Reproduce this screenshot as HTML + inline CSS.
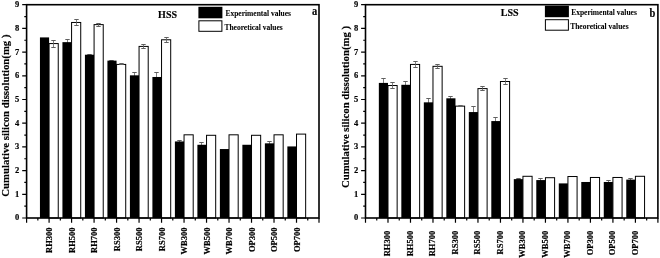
<!DOCTYPE html>
<html><head><meta charset="utf-8"><style>
html,body{margin:0;padding:0;background:#fff;width:660px;height:258px;overflow:hidden}
svg{display:block;will-change:transform}
text{font-family:"Liberation Serif",serif;font-weight:bold;fill:#000;stroke:#000;stroke-width:0.18px}
.tl{font-size:8.5px}
.yt{font-size:11.2px}
.tt{font-size:10.6px}
.lg{font-size:7.5px;stroke-width:0.06px}
.lt{font-size:11px}
</style></head><body>
<svg width="660" height="258" viewBox="0 0 660 258">
<rect x="39.94" y="37.41" width="9.15" height="180.59" fill="#000"/>
<rect x="49.09" y="43.57" width="9.15" height="174.43" fill="#fff" stroke="#000" stroke-width="1.0"/>
<path d="M53.50 40.50V47.50" stroke="#606060" stroke-width="0.8" fill="none"/>
<path d="M51.30 40.50H55.70M51.30 47.50H55.70" stroke="#606060" stroke-width="1.0" fill="none"/>
<path d="M67.50 39.50V45.50" stroke="#606060" stroke-width="0.8" fill="none"/>
<path d="M65.30 39.50H69.70M65.30 45.50H69.70" stroke="#606060" stroke-width="1.0" fill="none"/>
<rect x="62.43" y="42.15" width="9.15" height="175.85" fill="#000"/>
<rect x="71.58" y="22.47" width="9.15" height="195.53" fill="#fff" stroke="#000" stroke-width="1.0"/>
<path d="M76.50 19.50V25.50" stroke="#606060" stroke-width="0.8" fill="none"/>
<path d="M74.30 19.50H78.70M74.30 25.50H78.70" stroke="#606060" stroke-width="1.0" fill="none"/>
<path d="M89.50 54.50V55.50" stroke="#606060" stroke-width="0.8" fill="none"/>
<path d="M87.30 54.50H91.70M87.30 55.50H91.70" stroke="#606060" stroke-width="1.0" fill="none"/>
<rect x="84.93" y="54.71" width="9.15" height="163.29" fill="#000"/>
<rect x="94.08" y="24.61" width="9.15" height="193.39" fill="#fff" stroke="#000" stroke-width="1.0"/>
<path d="M98.50 23.50V26.50" stroke="#606060" stroke-width="0.8" fill="none"/>
<path d="M96.30 23.50H100.70M96.30 26.50H100.70" stroke="#606060" stroke-width="1.0" fill="none"/>
<path d="M111.50 60.50V61.50" stroke="#606060" stroke-width="0.8" fill="none"/>
<path d="M109.30 60.50H113.70M109.30 61.50H113.70" stroke="#606060" stroke-width="1.0" fill="none"/>
<rect x="107.42" y="60.63" width="9.15" height="157.37" fill="#000"/>
<rect x="116.57" y="64.42" width="9.15" height="153.58" fill="#fff" stroke="#000" stroke-width="1.0"/>
<path d="M121.50 63.50V64.50" stroke="#606060" stroke-width="0.8" fill="none"/>
<path d="M119.30 63.50H123.70M119.30 64.50H123.70" stroke="#606060" stroke-width="1.0" fill="none"/>
<path d="M134.50 72.50V78.50" stroke="#606060" stroke-width="0.8" fill="none"/>
<path d="M132.30 72.50H136.70M132.30 78.50H136.70" stroke="#606060" stroke-width="1.0" fill="none"/>
<rect x="129.91" y="75.33" width="9.15" height="142.67" fill="#000"/>
<rect x="139.06" y="46.41" width="9.15" height="171.59" fill="#fff" stroke="#000" stroke-width="1.0"/>
<path d="M143.50 44.50V48.50" stroke="#606060" stroke-width="0.8" fill="none"/>
<path d="M141.30 44.50H145.70M141.30 48.50H145.70" stroke="#606060" stroke-width="1.0" fill="none"/>
<path d="M156.50 72.50V81.50" stroke="#606060" stroke-width="0.8" fill="none"/>
<path d="M154.30 72.50H158.70M154.30 81.50H158.70" stroke="#606060" stroke-width="1.0" fill="none"/>
<rect x="152.40" y="76.98" width="9.15" height="141.02" fill="#000"/>
<rect x="161.55" y="39.78" width="9.15" height="178.22" fill="#fff" stroke="#000" stroke-width="1.0"/>
<path d="M166.50 37.50V42.50" stroke="#606060" stroke-width="0.8" fill="none"/>
<path d="M164.30 37.50H168.70M164.30 42.50H168.70" stroke="#606060" stroke-width="1.0" fill="none"/>
<path d="M179.50 140.50V142.50" stroke="#606060" stroke-width="0.8" fill="none"/>
<path d="M177.30 140.50H181.70M177.30 142.50H181.70" stroke="#606060" stroke-width="1.0" fill="none"/>
<rect x="174.90" y="141.45" width="9.15" height="76.55" fill="#000"/>
<rect x="184.05" y="134.81" width="9.15" height="83.19" fill="#fff" stroke="#000" stroke-width="1.0"/>
<path d="M201.50 142.50V147.50" stroke="#606060" stroke-width="0.8" fill="none"/>
<path d="M199.30 142.50H203.70M199.30 147.50H203.70" stroke="#606060" stroke-width="1.0" fill="none"/>
<rect x="197.39" y="144.77" width="9.15" height="73.23" fill="#000"/>
<rect x="206.54" y="135.29" width="9.15" height="82.71" fill="#fff" stroke="#000" stroke-width="1.0"/>
<rect x="219.88" y="149.03" width="9.15" height="68.97" fill="#000"/>
<rect x="229.03" y="134.81" width="9.15" height="83.19" fill="#fff" stroke="#000" stroke-width="1.0"/>
<rect x="242.37" y="144.77" width="9.15" height="73.23" fill="#000"/>
<rect x="251.52" y="135.29" width="9.15" height="82.71" fill="#fff" stroke="#000" stroke-width="1.0"/>
<path d="M269.50 141.50V145.50" stroke="#606060" stroke-width="0.8" fill="none"/>
<path d="M267.30 141.50H271.70M267.30 145.50H271.70" stroke="#606060" stroke-width="1.0" fill="none"/>
<rect x="264.87" y="143.34" width="9.15" height="74.66" fill="#000"/>
<rect x="274.02" y="134.81" width="9.15" height="83.19" fill="#fff" stroke="#000" stroke-width="1.0"/>
<rect x="287.36" y="146.43" width="9.15" height="71.57" fill="#000"/>
<rect x="296.51" y="134.10" width="9.15" height="83.90" fill="#fff" stroke="#000" stroke-width="1.0"/>
<rect x="26.60" y="4.70" width="292.40" height="213.30" fill="none" stroke="#000" stroke-width="1.6"/>
<path d="M26.60 218.00H22.20M26.60 206.15H24.30M26.60 194.30H22.20M26.60 182.45H24.30M26.60 170.60H22.20M26.60 158.75H24.30M26.60 146.90H22.20M26.60 135.05H24.30M26.60 123.20H22.20M26.60 111.35H24.30M26.60 99.50H22.20M26.60 87.65H24.30M26.60 75.80H22.20M26.60 63.95H24.30M26.60 52.10H22.20M26.60 40.25H24.30M26.60 28.40H22.20M26.60 16.55H24.30M26.60 4.70H22.20M26.60 218.00V222.70M37.85 218.00V220.50M49.09 218.00V222.70M60.34 218.00V220.50M71.58 218.00V222.70M82.83 218.00V220.50M94.08 218.00V222.70M105.32 218.00V220.50M116.57 218.00V222.70M127.82 218.00V220.50M139.06 218.00V222.70M150.31 218.00V220.50M161.55 218.00V222.70M172.80 218.00V220.50M184.05 218.00V222.70M195.29 218.00V220.50M206.54 218.00V222.70M217.78 218.00V220.50M229.03 218.00V222.70M240.28 218.00V220.50M251.52 218.00V222.70M262.77 218.00V220.50M274.02 218.00V222.70M285.26 218.00V220.50M296.51 218.00V222.70M307.75 218.00V220.50M319.00 218.00V222.70" stroke="#000" stroke-width="1.2" fill="none"/>
<text x="19.30" y="220.40" text-anchor="end" class="tl">0</text>
<text x="19.30" y="196.70" text-anchor="end" class="tl">1</text>
<text x="19.30" y="173.00" text-anchor="end" class="tl">2</text>
<text x="19.30" y="149.30" text-anchor="end" class="tl">3</text>
<text x="19.30" y="125.60" text-anchor="end" class="tl">4</text>
<text x="19.30" y="101.90" text-anchor="end" class="tl">5</text>
<text x="19.30" y="78.20" text-anchor="end" class="tl">6</text>
<text x="19.30" y="54.50" text-anchor="end" class="tl">7</text>
<text x="19.30" y="30.80" text-anchor="end" class="tl">8</text>
<text x="19.30" y="7.10" text-anchor="end" class="tl">9</text>
<text transform="translate(52.19,227.50) rotate(-90)" text-anchor="end" class="tl">RH300</text>
<text transform="translate(74.68,227.50) rotate(-90)" text-anchor="end" class="tl">RH500</text>
<text transform="translate(97.18,227.50) rotate(-90)" text-anchor="end" class="tl">RH700</text>
<text transform="translate(119.67,227.50) rotate(-90)" text-anchor="end" class="tl">RS300</text>
<text transform="translate(142.16,227.50) rotate(-90)" text-anchor="end" class="tl">RS500</text>
<text transform="translate(164.65,227.50) rotate(-90)" text-anchor="end" class="tl">RS700</text>
<text transform="translate(187.15,227.50) rotate(-90)" text-anchor="end" class="tl">WB300</text>
<text transform="translate(209.64,227.50) rotate(-90)" text-anchor="end" class="tl">WB500</text>
<text transform="translate(232.13,227.50) rotate(-90)" text-anchor="end" class="tl">WB700</text>
<text transform="translate(254.62,227.50) rotate(-90)" text-anchor="end" class="tl">OP300</text>
<text transform="translate(277.12,227.50) rotate(-90)" text-anchor="end" class="tl">OP500</text>
<text transform="translate(299.61,227.50) rotate(-90)" text-anchor="end" class="tl">OP700</text>
<text transform="translate(9.20,115.60) rotate(-90) scale(0.962,1)" text-anchor="middle" class="yt">Cumulative silicon dissolution(mg )</text>
<text transform="translate(158.10,17.60) scale(0.95,1)" class="tt">HSS</text>
<rect x="198.40" y="6.80" width="24" height="11.5" fill="#000"/>
<rect x="198.90" y="20.80" width="23" height="10.5" fill="#fff" stroke="#000" stroke-width="1"/>
<text x="225.40" y="16.00" class="lg">Experimental values</text>
<text x="224.40" y="29.70" class="lg">Theoretical values</text>
<text transform="translate(312.00,14.70) scale(0.86,1)" style="font-size:12.2px">a</text>
<path d="M383.50 78.50V87.50" stroke="#606060" stroke-width="0.8" fill="none"/>
<path d="M381.30 78.50H385.70M381.30 87.50H385.70" stroke="#606060" stroke-width="1.0" fill="none"/>
<rect x="378.84" y="82.91" width="9.15" height="135.09" fill="#000"/>
<rect x="387.99" y="85.52" width="9.15" height="132.48" fill="#fff" stroke="#000" stroke-width="1.0"/>
<path d="M392.50 82.50V88.50" stroke="#606060" stroke-width="0.8" fill="none"/>
<path d="M390.30 82.50H394.70M390.30 88.50H394.70" stroke="#606060" stroke-width="1.0" fill="none"/>
<path d="M405.50 81.50V88.50" stroke="#606060" stroke-width="0.8" fill="none"/>
<path d="M403.30 81.50H407.70M403.30 88.50H407.70" stroke="#606060" stroke-width="1.0" fill="none"/>
<rect x="401.33" y="84.81" width="9.15" height="133.19" fill="#000"/>
<rect x="410.48" y="64.42" width="9.15" height="153.58" fill="#fff" stroke="#000" stroke-width="1.0"/>
<path d="M415.50 61.50V67.50" stroke="#606060" stroke-width="0.8" fill="none"/>
<path d="M413.30 61.50H417.70M413.30 67.50H417.70" stroke="#606060" stroke-width="1.0" fill="none"/>
<path d="M428.50 98.50V105.50" stroke="#606060" stroke-width="0.8" fill="none"/>
<path d="M426.30 98.50H430.70M426.30 105.50H430.70" stroke="#606060" stroke-width="1.0" fill="none"/>
<rect x="423.83" y="102.34" width="9.15" height="115.66" fill="#000"/>
<rect x="432.98" y="66.32" width="9.15" height="151.68" fill="#fff" stroke="#000" stroke-width="1.0"/>
<path d="M437.50 64.50V68.50" stroke="#606060" stroke-width="0.8" fill="none"/>
<path d="M435.30 64.50H439.70M435.30 68.50H439.70" stroke="#606060" stroke-width="1.0" fill="none"/>
<path d="M450.50 96.50V100.50" stroke="#606060" stroke-width="0.8" fill="none"/>
<path d="M448.30 96.50H452.70M448.30 100.50H452.70" stroke="#606060" stroke-width="1.0" fill="none"/>
<rect x="446.32" y="98.31" width="9.15" height="119.69" fill="#000"/>
<rect x="455.47" y="106.14" width="9.15" height="111.86" fill="#fff" stroke="#000" stroke-width="1.0"/>
<path d="M460.50 105.50V106.50" stroke="#606060" stroke-width="0.8" fill="none"/>
<path d="M458.30 105.50H462.70M458.30 106.50H462.70" stroke="#606060" stroke-width="1.0" fill="none"/>
<path d="M473.50 106.50V117.50" stroke="#606060" stroke-width="0.8" fill="none"/>
<path d="M471.30 106.50H475.70M471.30 117.50H475.70" stroke="#606060" stroke-width="1.0" fill="none"/>
<rect x="468.81" y="112.06" width="9.15" height="105.94" fill="#000"/>
<rect x="477.96" y="88.60" width="9.15" height="129.40" fill="#fff" stroke="#000" stroke-width="1.0"/>
<path d="M482.50 86.50V90.50" stroke="#606060" stroke-width="0.8" fill="none"/>
<path d="M480.30 86.50H484.70M480.30 90.50H484.70" stroke="#606060" stroke-width="1.0" fill="none"/>
<path d="M495.50 117.50V124.50" stroke="#606060" stroke-width="0.8" fill="none"/>
<path d="M493.30 117.50H497.70M493.30 124.50H497.70" stroke="#606060" stroke-width="1.0" fill="none"/>
<rect x="491.30" y="121.07" width="9.15" height="96.93" fill="#000"/>
<rect x="500.45" y="81.49" width="9.15" height="136.51" fill="#fff" stroke="#000" stroke-width="1.0"/>
<path d="M505.50 78.50V84.50" stroke="#606060" stroke-width="0.8" fill="none"/>
<path d="M503.30 78.50H507.70M503.30 84.50H507.70" stroke="#606060" stroke-width="1.0" fill="none"/>
<path d="M518.50 178.50V179.50" stroke="#606060" stroke-width="0.8" fill="none"/>
<path d="M516.30 178.50H520.70M516.30 179.50H520.70" stroke="#606060" stroke-width="1.0" fill="none"/>
<rect x="513.80" y="179.13" width="9.15" height="38.87" fill="#000"/>
<rect x="522.95" y="176.29" width="9.15" height="41.71" fill="#fff" stroke="#000" stroke-width="1.0"/>
<path d="M540.50 178.50V181.50" stroke="#606060" stroke-width="0.8" fill="none"/>
<path d="M538.30 178.50H542.70M538.30 181.50H542.70" stroke="#606060" stroke-width="1.0" fill="none"/>
<rect x="536.29" y="180.08" width="9.15" height="37.92" fill="#000"/>
<rect x="545.44" y="177.71" width="9.15" height="40.29" fill="#fff" stroke="#000" stroke-width="1.0"/>
<rect x="558.78" y="183.40" width="9.15" height="34.60" fill="#000"/>
<rect x="567.93" y="176.52" width="9.15" height="41.48" fill="#fff" stroke="#000" stroke-width="1.0"/>
<rect x="581.27" y="181.98" width="9.15" height="36.02" fill="#000"/>
<rect x="590.42" y="177.47" width="9.15" height="40.53" fill="#fff" stroke="#000" stroke-width="1.0"/>
<path d="M608.50 180.50V183.50" stroke="#606060" stroke-width="0.8" fill="none"/>
<path d="M606.30 180.50H610.70M606.30 183.50H610.70" stroke="#606060" stroke-width="1.0" fill="none"/>
<rect x="603.77" y="181.98" width="9.15" height="36.02" fill="#000"/>
<rect x="612.92" y="177.47" width="9.15" height="40.53" fill="#fff" stroke="#000" stroke-width="1.0"/>
<path d="M630.50 178.50V180.50" stroke="#606060" stroke-width="0.8" fill="none"/>
<path d="M628.30 178.50H632.70M628.30 180.50H632.70" stroke="#606060" stroke-width="1.0" fill="none"/>
<rect x="626.26" y="179.61" width="9.15" height="38.39" fill="#000"/>
<rect x="635.41" y="176.29" width="9.15" height="41.71" fill="#fff" stroke="#000" stroke-width="1.0"/>
<rect x="365.50" y="4.70" width="292.40" height="213.30" fill="none" stroke="#000" stroke-width="1.6"/>
<path d="M365.50 218.00H361.10M365.50 206.15H363.20M365.50 194.30H361.10M365.50 182.45H363.20M365.50 170.60H361.10M365.50 158.75H363.20M365.50 146.90H361.10M365.50 135.05H363.20M365.50 123.20H361.10M365.50 111.35H363.20M365.50 99.50H361.10M365.50 87.65H363.20M365.50 75.80H361.10M365.50 63.95H363.20M365.50 52.10H361.10M365.50 40.25H363.20M365.50 28.40H361.10M365.50 16.55H363.20M365.50 4.70H361.10M365.50 218.00V222.70M376.75 218.00V220.50M387.99 218.00V222.70M399.24 218.00V220.50M410.48 218.00V222.70M421.73 218.00V220.50M432.98 218.00V222.70M444.22 218.00V220.50M455.47 218.00V222.70M466.72 218.00V220.50M477.96 218.00V222.70M489.21 218.00V220.50M500.45 218.00V222.70M511.70 218.00V220.50M522.95 218.00V222.70M534.19 218.00V220.50M545.44 218.00V222.70M556.68 218.00V220.50M567.93 218.00V222.70M579.18 218.00V220.50M590.42 218.00V222.70M601.67 218.00V220.50M612.92 218.00V222.70M624.16 218.00V220.50M635.41 218.00V222.70M646.65 218.00V220.50M657.90 218.00V222.70" stroke="#000" stroke-width="1.2" fill="none"/>
<text x="358.20" y="220.40" text-anchor="end" class="tl">0</text>
<text x="358.20" y="196.70" text-anchor="end" class="tl">1</text>
<text x="358.20" y="173.00" text-anchor="end" class="tl">2</text>
<text x="358.20" y="149.30" text-anchor="end" class="tl">3</text>
<text x="358.20" y="125.60" text-anchor="end" class="tl">4</text>
<text x="358.20" y="101.90" text-anchor="end" class="tl">5</text>
<text x="358.20" y="78.20" text-anchor="end" class="tl">6</text>
<text x="358.20" y="54.50" text-anchor="end" class="tl">7</text>
<text x="358.20" y="30.80" text-anchor="end" class="tl">8</text>
<text x="358.20" y="7.10" text-anchor="end" class="tl">9</text>
<text transform="translate(390.39,230.80) rotate(-90)" text-anchor="end" class="tl">RH300</text>
<text transform="translate(412.88,230.80) rotate(-90)" text-anchor="end" class="tl">RH500</text>
<text transform="translate(435.38,230.80) rotate(-90)" text-anchor="end" class="tl">RH700</text>
<text transform="translate(457.87,230.80) rotate(-90)" text-anchor="end" class="tl">RS300</text>
<text transform="translate(480.36,230.80) rotate(-90)" text-anchor="end" class="tl">RS500</text>
<text transform="translate(502.85,230.80) rotate(-90)" text-anchor="end" class="tl">RS700</text>
<text transform="translate(525.35,230.80) rotate(-90)" text-anchor="end" class="tl">WB300</text>
<text transform="translate(547.84,230.80) rotate(-90)" text-anchor="end" class="tl">WB500</text>
<text transform="translate(570.33,230.80) rotate(-90)" text-anchor="end" class="tl">WB700</text>
<text transform="translate(592.82,230.80) rotate(-90)" text-anchor="end" class="tl">OP300</text>
<text transform="translate(615.32,230.80) rotate(-90)" text-anchor="end" class="tl">OP500</text>
<text transform="translate(637.81,230.80) rotate(-90)" text-anchor="end" class="tl">OP700</text>
<text transform="translate(349.00,107.00) rotate(-90) scale(0.962,1)" text-anchor="middle" class="yt">Cumulative silicon dissolution(mg )</text>
<text transform="translate(500.70,16.10) scale(0.95,1)" class="tt">LSS</text>
<rect x="544.90" y="5.70" width="24" height="11.5" fill="#000"/>
<rect x="545.40" y="19.70" width="23" height="10.5" fill="#fff" stroke="#000" stroke-width="1"/>
<text x="571.20" y="14.90" class="lg">Experimental values</text>
<text x="570.20" y="28.60" class="lg">Theoretical values</text>
<text transform="translate(649.60,16.50) scale(0.86,1)" style="font-size:12.2px">b</text>
</svg>
</body></html>
